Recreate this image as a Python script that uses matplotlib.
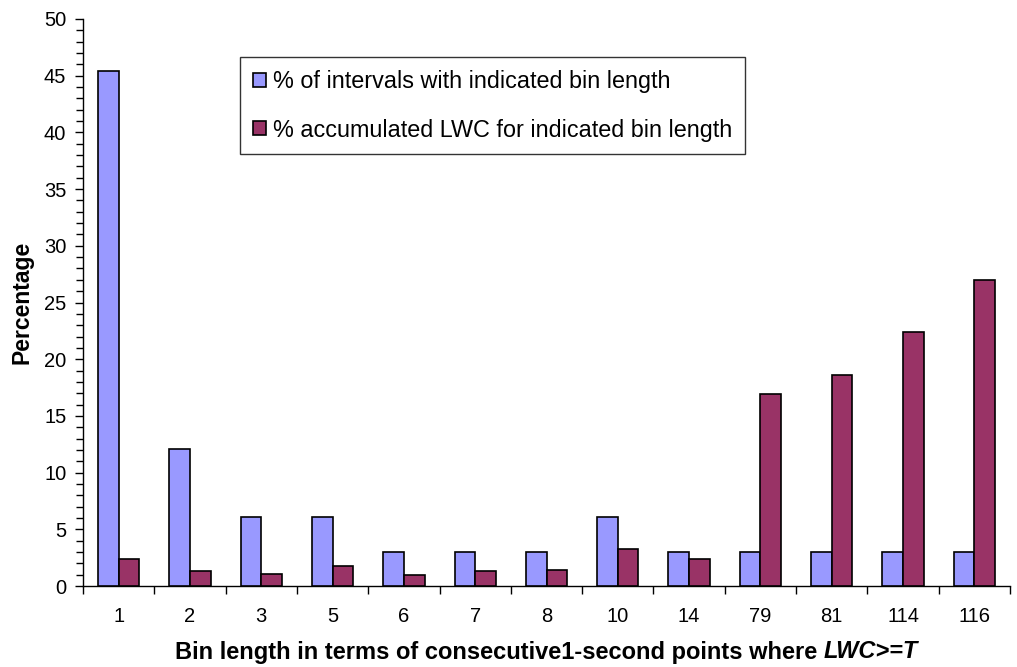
import matplotlib
matplotlib.use("Agg")
import matplotlib.pyplot as plt
import numpy as np
from matplotlib.ticker import MultipleLocator, FixedLocator, NullFormatter

plt.rcParams['font.family'] = ['Liberation Sans', 'DejaVu Sans']

categories = ["1", "2", "3", "5", "6", "7", "8", "10", "14", "79", "81", "114", "116"]
pct_intervals = [45.45, 12.12, 6.06, 6.06, 3.03, 3.03, 3.03, 6.06, 3.03, 3.03, 3.03, 3.03, 3.03]
pct_lwc = [2.4, 1.3, 1.05, 1.75, 1.0, 1.3, 1.45, 3.3, 2.35, 16.9, 18.6, 22.4, 27.0]
yticks = [0, 5, 10, 15, 20, 25, 30, 35, 40, 45, 50]

fig = plt.figure(figsize=(10.17, 6.67), dpi=100)
ax = fig.add_axes([83/1017, 1 - 586/667, (1010-83)/1017, (586-19)/667])

x = np.arange(len(categories))
w = 0.29
ax.bar(x - w/2, pct_intervals, width=w, color="#9999FF", edgecolor="black", linewidth=1.2,
       label="% of intervals with indicated bin length", zorder=3)
ax.bar(x + w/2, pct_lwc, width=w, color="#993366", edgecolor="black", linewidth=1.2,
       label="% accumulated LWC for indicated bin length", zorder=3)

ax.set_xlim(-0.5, len(categories) - 0.5)
ax.set_ylim(0, 50)
ax.set_yticks(yticks)
ax.yaxis.set_minor_locator(MultipleLocator(1))
ax.set_xticks(x)
ax.set_xticklabels(categories, fontsize=14.5)
ax.tick_params(axis='x', which='major', length=0, pad=15)
ax.xaxis.set_minor_locator(FixedLocator(np.arange(-0.5, len(categories) + 0.5, 1)))
ax.xaxis.set_minor_formatter(NullFormatter())
ax.tick_params(axis='x', which='minor', length=6, width=1, direction='out')
ax.tick_params(axis='y', which='major', length=6, width=1, labelsize=14.5, direction='out', pad=6)
ax.tick_params(axis='y', which='minor', length=5, width=1, direction='out')
for s in ['top', 'right']:
    ax.spines[s].set_visible(False)
ax.spines['left'].set_linewidth(1)
ax.spines['bottom'].set_linewidth(1)

fig.text(22/1017, 1 - 302/667, "Percentage", fontsize=16.5, fontweight='bold',
         rotation=90, ha='center', va='center')

leg = ax.legend(loc='upper left', bbox_to_anchor=((240-83)/927, (586-57)/567),
                fontsize=16.8, frameon=True, fancybox=False, edgecolor='black',
                handlelength=0.55, handleheight=0.55, handletextpad=0.3,
                labelspacing=1.1, borderpad=0.55, borderaxespad=0)
leg.get_frame().set_linewidth(1.0)

# x label with bold-italic part
part1 = "Bin length in terms of consecutive1-second points where "
part2 = "LWC>=T"
ypix = 667 - 652
t1 = fig.text(0, ypix/667, part1, fontsize=17, fontweight='bold', ha='left', va='center')
t2 = fig.text(0, ypix/667, part2, fontsize=17, fontweight='bold', style='italic', ha='left', va='center')
fig.canvas.draw()
r = fig.canvas.get_renderer()
w1 = t1.get_window_extent(r).width
w2 = t2.get_window_extent(r).width
center = (83 + 1010) / 2
start = center - (w1 + w2) / 2
t1.set_x(start / 1017)
t2.set_x((start + w1) / 1017)

fig.savefig("out.png", dpi=100)
